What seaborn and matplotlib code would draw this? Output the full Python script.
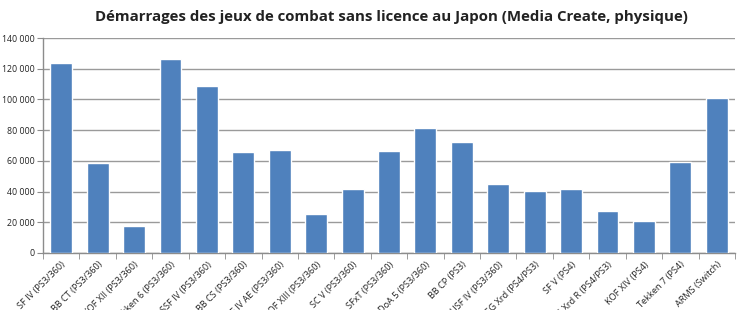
import matplotlib
matplotlib.use("Agg")
import matplotlib.pyplot as plt
import seaborn as sns
import pandas as pd
from matplotlib.ticker import FuncFormatter, FixedLocator

games = ["SF IV (PS3/360)", "BB CT (PS3/360)", "KOF XII (PS3/360)", "Tekken 6 (PS3/360)",
         "SSF IV (PS3/360)", "BB CS (PS3/360)", "SSF IV AE (PS3/360)", "KOF XIII (PS3/360)",
         "SC V (PS3/360)", "SFxT (PS3/360)", "DoA 5 (PS3/360)", "BB CP (PS3)",
         "USF IV (PS3/360)", "GG Xrd (PS4/PS3)", "SF V (PS4)", "GG Xrd R (PS4/PS3)",
         "KOF XIV (PS4)", "Tekken 7 (PS4)", "ARMS (Switch)"]
sales = [123700, 58600, 17800, 126300, 109000, 65800, 67000, 25400, 41700, 66600,
         81200, 72400, 44900, 40300, 42000, 27200, 20800, 59000, 100900]
yticks = [0, 20000, 40000, 60000, 80000, 100000, 120000, 140000]

df = pd.DataFrame({"jeu": games, "ventes": sales})

sns.set_style("white")
plt.rcParams["font.family"] = ["Open Sans", "DejaVu Sans"]

fig = plt.figure(figsize=(7.41, 3.10), dpi=100)
ax = fig.add_axes([43/741, 57/310, 692/741, 215/310])

sns.barplot(data=df, x="jeu", y="ventes", color="#4F81BD", width=0.6,
            saturation=1, ax=ax, zorder=3)

ax.set_ylim(0, 140000)
ax.set_xlim(-0.5, len(games) - 0.5)
ax.yaxis.set_major_locator(FixedLocator(yticks))
ax.yaxis.set_major_formatter(FuncFormatter(lambda v, p: f"{int(v):,}".replace(",", " ")))
ax.grid(axis="y", color="#9a9a9a", linewidth=1, zorder=0)
ax.set_xlabel("")
ax.set_ylabel("")

for s in ["top", "right"]:
    ax.spines[s].set_visible(False)
for s in ["left", "bottom"]:
    ax.spines[s].set_color("#8c8c8c")
    ax.spines[s].set_linewidth(1)

ax.tick_params(axis="y", labelsize=6.3, colors="#8c8c8c", labelcolor="#222222",
               length=4, direction="out", left=True, pad=2)
ax.set_xticks(range(len(games)))
ax.set_xticklabels(games, rotation=45, ha="right", rotation_mode="anchor",
                   fontsize=6.6, color="#222222")
ax.tick_params(axis="x", which="major", length=0, pad=5)
ax.set_xticks([i - 0.5 for i in range(len(games) + 1)], minor=True)
ax.tick_params(axis="x", which="minor", length=4, color="#8c8c8c", direction="out", bottom=True)

fig.text(0.528, 0.945, "Démarrages des jeux de combat sans licence au Japon (Media Create, physique)",
         ha="center", va="center", fontsize=10.8, fontweight="bold", color="#222222")

fig.savefig("out.png", dpi=100, facecolor="white")
